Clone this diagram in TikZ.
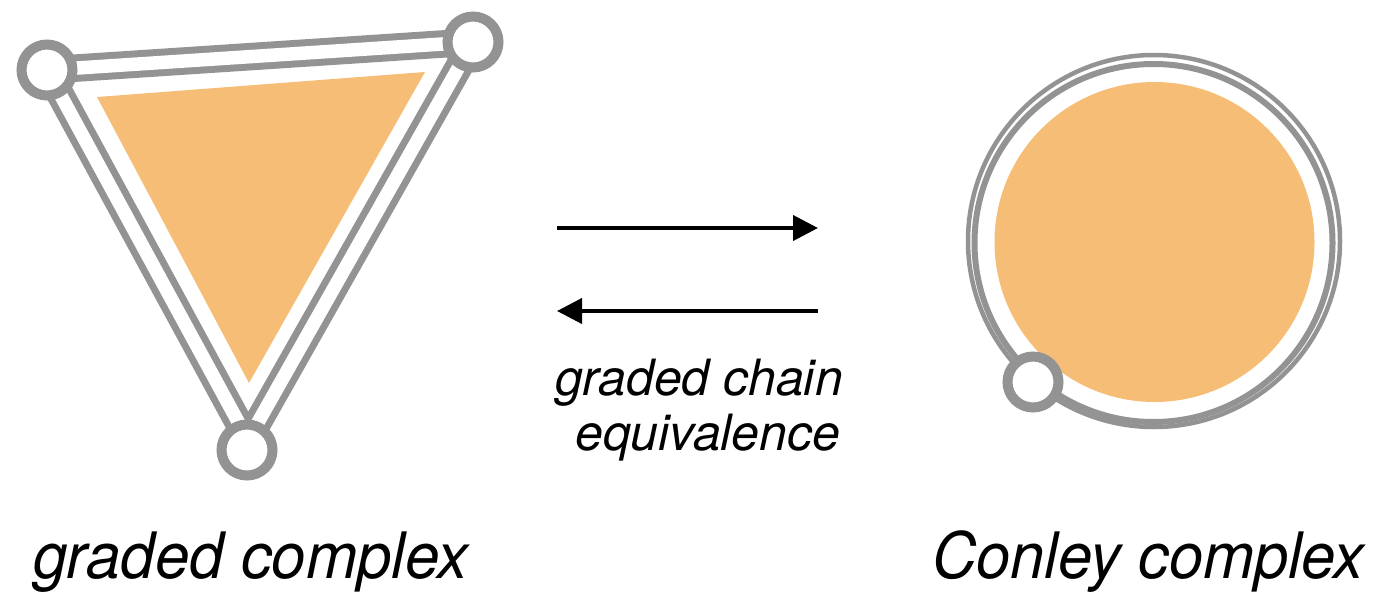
\documentclass[tikz,border=0pt]{standalone}
\usepackage{fontspec}
\setmainfont{TeX Gyre Heros}
\usetikzlibrary{arrows.meta}
\definecolor{edgegray}{HTML}{939393}
\definecolor{fillorange}{HTML}{F6BD77}
\newcommand{\bigtxt}{\fontsize{64}{70}\selectfont\itshape}
\newcommand{\midtxt}{\fontsize{50}{55}\selectfont\itshape}
\begin{document}
\begin{tikzpicture}[x=1pt,y=-1pt,
  vertex/.style={circle, draw=edgegray, fill=white, line width=10pt, minimum size=51pt, inner sep=0pt},
  dbledge/.style={draw=edgegray, line width=7pt, double=white, double distance=13.5pt},
  ringout/.style={draw=edgegray, line width=4.5pt},
  ringin/.style={draw=edgegray, line width=6pt},
  arrowline/.style={line width=4pt, -{Triangle[length=25pt,width=25pt]}},
  label/.style={anchor=base west, inner sep=0pt, text=black}]
\useasboundingbox (0,0) rectangle (1378,592);
% graded complex (triangle)
\coordinate (c1) at (47,70);
\coordinate (c2) at (473,42);
\coordinate (c3) at (248,440);
\path[dbledge] (c1) -- (c2) -- (c3) -- cycle;
\fill[fillorange] (97,97) -- (425,72) -- (249,383) -- cycle;
\node[vertex] (v1) at (c1) {};
\node[vertex] (v2) at (c2) {};
\node[vertex] (v3) at (247,450) {};
% Conley complex (disk)
\path[ringout] (1154,241) circle[radius=186pt];
\path[ringin] (1153.5,243) circle[radius=179pt];
\fill[fillorange] (1154.5,242) circle[radius=160pt];
\node[vertex] (v4) at (1033,382) {};
% arrows
\coordinate (a1s) at (557,228);
\coordinate (a1e) at (818,228);
\coordinate (a2s) at (818,311);
\coordinate (a2e) at (557,311);
\draw[arrowline] (a1s) -- (a1e);
\draw[arrowline] (a2s) -- (a2e);
% labels
\node[label] (m1) at (555,395) {\midtxt graded chain};
\node[label] (m2) at (575,450) {\midtxt equivalence};
\node[label] (lg) at (33,578) {\bigtxt\scalebox{0.965}[1]{graded complex}};
\node[label] (lc) at (932,578) {\bigtxt\scalebox{0.96}[1]{Conley complex}};
\end{tikzpicture}
\end{document}
